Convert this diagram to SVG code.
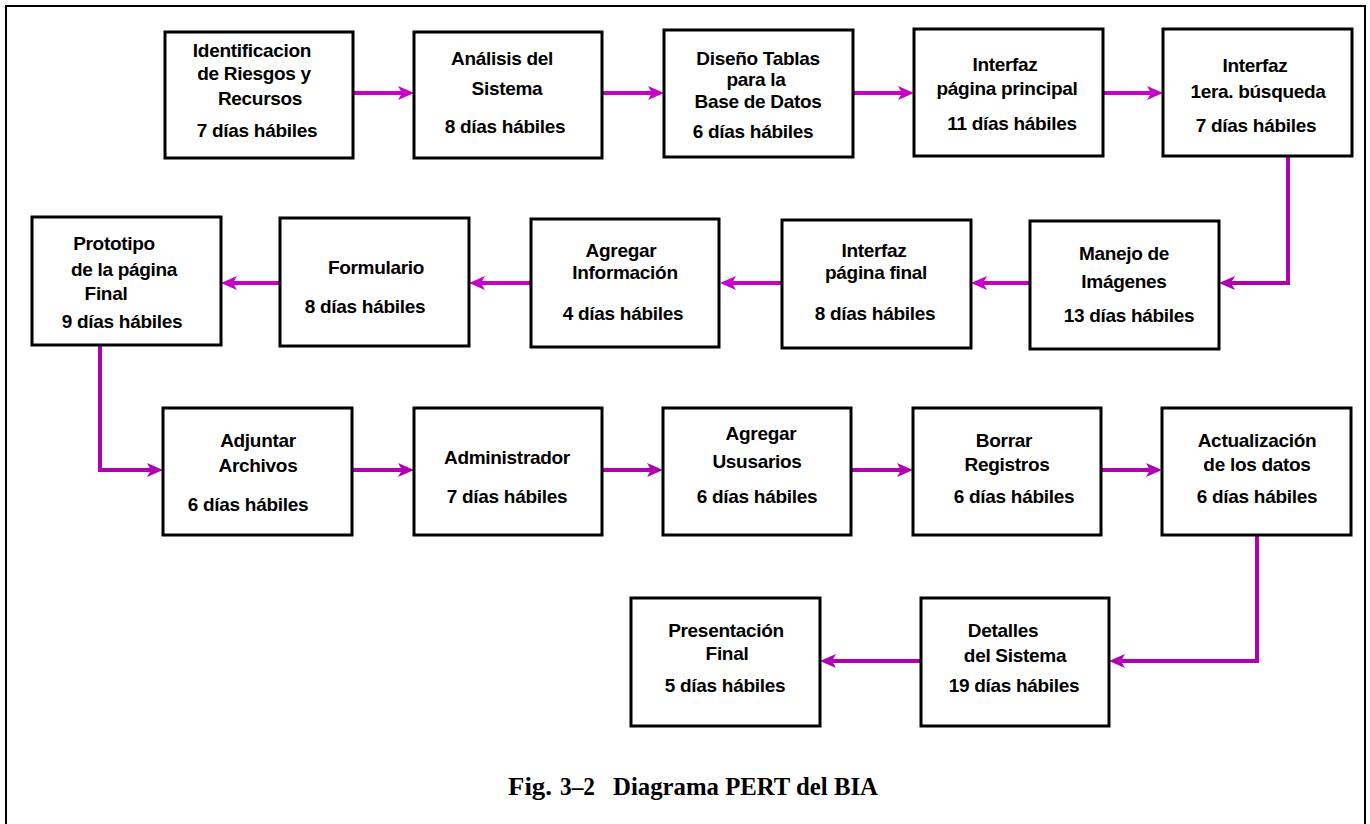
<svg xmlns="http://www.w3.org/2000/svg" width="1370" height="824" viewBox="0 0 1370 824">
  <style>
    .box { fill: #ffffff; stroke: #000000; stroke-width: 3; }
    .lbl { font-family: "Liberation Sans", Arial, sans-serif; font-weight: bold; font-size: 19px; letter-spacing: -0.3px; text-anchor: middle; fill: #000000; }
    .link { fill: none; stroke: #c800c8; stroke-width: 4; }
    .link2 { fill: none; stroke: #b000b4; stroke-width: 4; }
    .cap { font-family: "Liberation Serif", "Times New Roman", serif; font-weight: bold; font-size: 25px; fill: #000000; }
  </style>
  <defs>
    <marker id="arrow" markerUnits="userSpaceOnUse" markerWidth="18" markerHeight="16" refX="6" refY="7" orient="auto">
      <path d="M0,0 L16,7 L0,14 L4,7 Z" fill="#c800c8"/>
    </marker>
    <marker id="arrow2" markerUnits="userSpaceOnUse" markerWidth="18" markerHeight="16" refX="6" refY="7" orient="auto">
      <path d="M0,0 L16,7 L0,14 L4,7 Z" fill="#b000b4"/>
    </marker>
  </defs>

  <rect width="1370" height="824" fill="#ffffff"/>
  <!-- page frame -->
  <rect x="6" y="6" width="1359" height="840" fill="none" stroke="#000000" stroke-width="2"/>

  <!-- connectors -->
  <g id="connectors">
    <path class="link" marker-end="url(#arrow)" d="M353,93 L404,93"/>
    <path class="link" marker-end="url(#arrow)" d="M602,93 L654,93"/>
    <path class="link" marker-end="url(#arrow)" d="M853,93 L904,93"/>
    <path class="link" marker-end="url(#arrow)" d="M1103,93 L1153,93"/>
    <path class="link2" marker-end="url(#arrow2)" d="M1288,157 L1288,283 L1229,283"/>
    <path class="link" marker-end="url(#arrow)" d="M1030,283 L981,283"/>
    <path class="link" marker-end="url(#arrow)" d="M782,283 L730,283"/>
    <path class="link" marker-end="url(#arrow)" d="M531,283 L479,283"/>
    <path class="link" marker-end="url(#arrow)" d="M280,283 L231,283"/>
    <path class="link2" marker-end="url(#arrow2)" d="M100,346 L100,470 L153,470"/>
    <path class="link2" marker-end="url(#arrow2)" d="M352,470 L404,470"/>
    <path class="link2" marker-end="url(#arrow2)" d="M602,470 L653,470"/>
    <path class="link2" marker-end="url(#arrow2)" d="M851,470 L903,470"/>
    <path class="link2" marker-end="url(#arrow2)" d="M1101,470 L1152,470"/>
    <path class="link2" marker-end="url(#arrow2)" d="M1257,536 L1257,661 L1119,661"/>
    <path class="link2" marker-end="url(#arrow2)" d="M921,661 L830,661"/>
  </g>

  <!-- row 1 -->
  <g id="n1">
    <rect class="box" x="165" y="32" width="188" height="126"/>
    <text class="lbl" x="252" y="57">Identificacion</text>
    <text class="lbl" x="254" y="80">de Riesgos y</text>
    <text class="lbl" x="260" y="105">Recursos</text>
    <text class="lbl" x="257" y="137">7 días hábiles</text>
  </g>
  <g id="n2">
    <rect class="box" x="414" y="32" width="188" height="126"/>
    <text class="lbl" x="502" y="65">Análisis del</text>
    <text class="lbl" x="507" y="95">Sistema</text>
    <text class="lbl" x="505" y="133">8 días hábiles</text>
  </g>
  <g id="n3">
    <rect class="box" x="664" y="30" width="189" height="127"/>
    <text class="lbl" x="758" y="65">Diseño Tablas</text>
    <text class="lbl" x="756" y="86">para la</text>
    <text class="lbl" x="758" y="108">Base de Datos</text>
    <text class="lbl" x="753" y="138">6 días hábiles</text>
  </g>
  <g id="n4">
    <rect class="box" x="914" y="29" width="189" height="127"/>
    <text class="lbl" x="1005" y="71">Interfaz</text>
    <text class="lbl" x="1007" y="95">página principal</text>
    <text class="lbl" x="1012" y="130">11 días hábiles</text>
  </g>
  <g id="n5">
    <rect class="box" x="1163" y="29" width="189" height="127"/>
    <text class="lbl" x="1255" y="72">Interfaz</text>
    <text class="lbl" x="1258" y="98">1era. búsqueda</text>
    <text class="lbl" x="1256" y="132">7 días hábiles</text>
  </g>

  <!-- row 2 -->
  <g id="n6">
    <rect class="box" x="32" y="217" width="189" height="128"/>
    <text class="lbl" x="114" y="250">Prototipo</text>
    <text class="lbl" x="124" y="276">de la página</text>
    <text class="lbl" x="106" y="300">Final</text>
    <text class="lbl" x="122" y="328">9 días hábiles</text>
  </g>
  <g id="n7">
    <rect class="box" x="280" y="218" width="189" height="128"/>
    <text class="lbl" x="376" y="274">Formulario</text>
    <text class="lbl" x="365" y="313">8 días hábiles</text>
  </g>
  <g id="n8">
    <rect class="box" x="531" y="219" width="188" height="128"/>
    <text class="lbl" x="621" y="257">Agregar</text>
    <text class="lbl" x="625" y="279">Información</text>
    <text class="lbl" x="623" y="320">4 días hábiles</text>
  </g>
  <g id="n9">
    <rect class="box" x="782" y="220" width="189" height="128"/>
    <text class="lbl" x="874" y="257">Interfaz</text>
    <text class="lbl" x="876" y="279">página final</text>
    <text class="lbl" x="875" y="320">8 días hábiles</text>
  </g>
  <g id="n10">
    <rect class="box" x="1030" y="221" width="189" height="128"/>
    <text class="lbl" x="1124" y="260">Manejo de</text>
    <text class="lbl" x="1124" y="288">Imágenes</text>
    <text class="lbl" x="1129" y="322">13 días hábiles</text>
  </g>

  <!-- row 3 -->
  <g id="n11">
    <rect class="box" x="163" y="408" width="189" height="127"/>
    <text class="lbl" x="258" y="447">Adjuntar</text>
    <text class="lbl" x="258" y="472">Archivos</text>
    <text class="lbl" x="248" y="511">6 días hábiles</text>
  </g>
  <g id="n12">
    <rect class="box" x="414" y="408" width="188" height="127"/>
    <text class="lbl" x="507" y="464">Administrador</text>
    <text class="lbl" x="507" y="503">7 días hábiles</text>
  </g>
  <g id="n13">
    <rect class="box" x="663" y="408" width="188" height="127"/>
    <text class="lbl" x="761" y="440">Agregar</text>
    <text class="lbl" x="757" y="468">Ususarios</text>
    <text class="lbl" x="757" y="503">6 días hábiles</text>
  </g>
  <g id="n14">
    <rect class="box" x="913" y="408" width="188" height="127"/>
    <text class="lbl" x="1004" y="447">Borrar</text>
    <text class="lbl" x="1007" y="471">Registros</text>
    <text class="lbl" x="1014" y="503">6 días hábiles</text>
  </g>
  <g id="n15">
    <rect class="box" x="1162" y="408" width="189" height="127"/>
    <text class="lbl" x="1257" y="447">Actualización</text>
    <text class="lbl" x="1257" y="471">de los datos</text>
    <text class="lbl" x="1257" y="503">6 días hábiles</text>
  </g>

  <!-- row 4 -->
  <g id="n16">
    <rect class="box" x="631" y="598" width="189" height="128"/>
    <text class="lbl" x="726" y="637">Presentación</text>
    <text class="lbl" x="727" y="660">Final</text>
    <text class="lbl" x="725" y="692">5 días hábiles</text>
  </g>
  <g id="n17">
    <rect class="box" x="921" y="598" width="188" height="128"/>
    <text class="lbl" x="1003" y="637">Detalles</text>
    <text class="lbl" x="1015" y="662">del Sistema</text>
    <text class="lbl" x="1014" y="692">19 días hábiles</text>
  </g>

  <!-- caption -->
  <g id="caption">
    <text class="cap" x="508" y="795" textLength="44" lengthAdjust="spacingAndGlyphs">Fig.</text>
    <text class="cap" x="560" y="795" textLength="35" lengthAdjust="spacingAndGlyphs">3–2</text>
    <text class="cap" x="613" y="795" textLength="265" lengthAdjust="spacingAndGlyphs">Diagrama PERT del BIA</text>
  </g>
</svg>
